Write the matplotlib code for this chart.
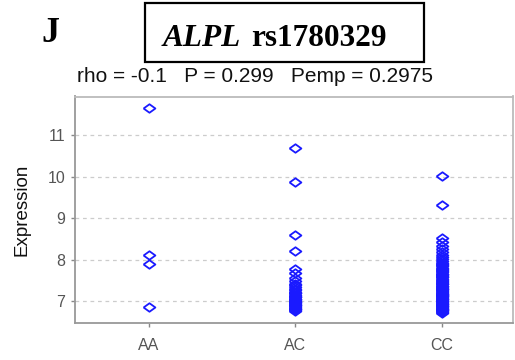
import matplotlib
matplotlib.use("Agg")
import matplotlib.pyplot as plt
from matplotlib.patches import Rectangle

categories = ["AA", "AC", "CC"]
yticks = [7, 8, 9, 10, 11]

aa_values = [11.66, 8.12, 7.90, 6.85]
ac_values = [10.70, 9.87, 8.60, 8.22, 7.78, 7.67, 7.56, 7.48, 7.42, 7.38, 7.33,
             7.30, 7.26, 7.22, 7.19, 7.15, 7.12, 7.09, 7.06, 7.03, 7.00, 6.98,
             6.95, 6.93, 6.90, 6.88, 6.86, 6.84, 6.82, 6.80, 6.78, 6.76, 7.10,
             7.20, 7.05, 6.97, 6.91]
cc_values = [10.03, 9.32, 8.52, 8.42, 8.33, 8.25, 8.18, 8.12, 8.06, 8.01, 7.96,
             7.92, 7.88, 7.84, 7.80, 7.76, 7.72, 7.69, 7.66, 7.63, 7.60, 7.57,
             7.54, 7.51, 7.48, 7.45, 7.42, 7.40, 7.37, 7.35, 7.32, 7.30, 7.27,
             7.25, 7.22, 7.20, 7.18, 7.16, 7.14, 7.12, 7.10, 7.08, 7.06, 7.04,
             7.02, 7.00, 6.98, 6.96, 6.94, 6.92, 6.90, 6.88, 6.86, 6.84, 6.82,
             6.80, 6.78, 6.76, 6.74, 6.72, 7.90, 7.78, 7.58, 7.44, 7.28, 7.11,
             6.99, 6.87, 6.79, 7.65, 7.36, 7.15]
series = [aa_values, ac_values, cc_values]

W, H = 515, 360
fig = plt.figure(figsize=(W/100, H/100), dpi=100)
ax = fig.add_axes([75/W, 1-323/H, (513-75)/W, (323-96.5)/H])

diamond = [(-1, 0), (0, 0.72), (1, 0), (0, -0.72), (-1, 0)]
for i, vals in enumerate(series):
    ax.plot([i]*len(vals), vals, linestyle="none", marker=diamond,
            markersize=8.5, markerfacecolor="none", markeredgecolor="#1a1aff",
            markeredgewidth=1.3)

ax.set_xlim(-0.505, 2.485)
ax.set_ylim(6.47, 11.94)
ax.set_xticks(range(len(categories)))
ax.set_xticklabels(categories)
ax.set_yticks(yticks)
ax.grid(axis="y", linestyle=(0, (3, 3)), color="#cccccc", linewidth=0.9)
ax.set_axisbelow(True)
for s in ax.spines.values():
    s.set_color("#999999")
    s.set_linewidth(1.3)
ax.spines["top"].set_color("#bbbbbb")
ax.spines["right"].set_color("#bbbbbb")
ax.tick_params(axis="both", colors="#888888", labelcolor="#555555",
               length=3, width=1)
ax.tick_params(axis="y", labelsize=11.5, pad=4)
ax.tick_params(axis="x", labelsize=11.5, pad=8)
for lab in ax.get_xticklabels() + ax.get_yticklabels():
    lab.set_family("Liberation Sans")
ax.set_ylabel("Expression", fontsize=13.5, family="Liberation Sans",
              color="#111111", labelpad=12)

fig.text(41/W, 1-33/H, "J", family="Liberation Serif", fontweight="bold",
         fontsize=26, ha="left", va="center")
fig.patches.append(Rectangle((145/W, 1-62/H), (424-145)/W, (62-3)/H,
                             transform=fig.transFigure, fill=False,
                             edgecolor="black", linewidth=1.6))
t1 = fig.text(163/W, 1-46/H, "ALPL", family="Liberation Serif",
              fontweight="bold", style="italic", fontsize=22.5,
              ha="left", va="baseline")
fig.canvas.draw()
r = fig.canvas.get_renderer()
bb = t1.get_window_extent(r)
fig.text(bb.x1/W + 10/W, 1-46/H, "rs1780329", family="Liberation Serif",
         fontweight="bold", fontsize=22.5, ha="left", va="baseline")
fig.text(77/W, 1-82/H, "rho = -0.1   P = 0.299   Pemp = 0.2975",
         family="Liberation Sans", fontsize=15, ha="left", va="baseline",
         color="#111111")

fig.savefig("out.png", dpi=100)
